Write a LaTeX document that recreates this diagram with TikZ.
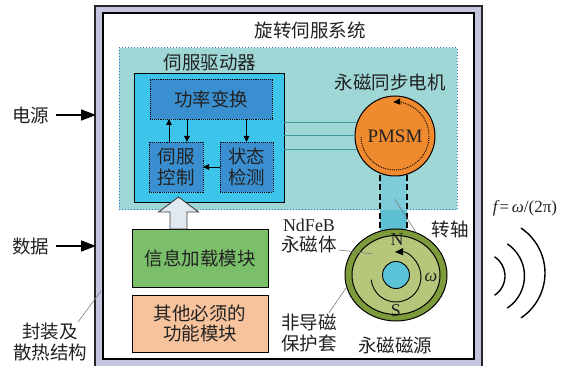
\documentclass[tikz,border=0pt]{standalone}
\usepackage{fontspec}
\setmainfont{Noto Sans CJK SC}
\newfontfamily\tms{Liberation Serif}
\usetikzlibrary{arrows.meta,shapes.geometric}

\definecolor{ink}{HTML}{222222}
\definecolor{lav}{HTML}{C4C4DE}
\definecolor{regionfill}{HTML}{9FD6D6}
\definecolor{regionline}{HTML}{3A6FC4}
\definecolor{drvfill}{HTML}{3DC4EA}
\definecolor{unitfill}{HTML}{3A8FD0}
\definecolor{greenfill}{HTML}{7BBF6A}
\definecolor{peachfill}{HTML}{F6C39C}
\definecolor{motorfill}{HTML}{F08A2E}
\definecolor{ringfill}{HTML}{7D9B3B}
\definecolor{magfill}{HTML}{B6C77C}
\definecolor{hubfill}{HTML}{5BC3D8}
\definecolor{shaftfill}{HTML}{5CC0D2}
\definecolor{shaftlite}{HTML}{7ECCD9}
\definecolor{wirecol}{HTML}{3F9C9E}
\definecolor{hollow}{HTML}{E0E8F0}
\definecolor{leader}{HTML}{7A7A7A}

\newcommand\lbfont{\fontsize{18.5}{20.5}\selectfont}

\begin{document}
\begin{tikzpicture}[x=1pt,y=-1pt,
  every node/.style={inner sep=0pt, outer sep=0pt, text=ink},
  lbl/.style={font=\lbfont, align=center},
  blockbox/.style={draw=black, line width=0.9pt, font=\lbfont, align=center},
  unitbox/.style={draw=black, densely dotted, line width=0.9pt, fill=unitfill, font=\lbfont, align=center},
  smallarr/.style={line width=0.9pt, -{Triangle[length=6pt,width=5.5pt]}},
  inarr/.style={line width=1.6pt, -{Triangle[length=15pt,width=11pt]}},
  leadline/.style={leader, line width=0.6pt},
  wire/.style={wirecol, line width=1pt},
  wave/.style={line width=1.4pt, line cap=round}
]
\useasboundingbox (0,0) rectangle (576,366);

% housing frame
\begin{scope}
\clip (0,0) rectangle (576,366);
\fill[lav, even odd rule] (95,6) rectangle (482,372) (103,13) rectangle (474,359);
\draw[black!85, line width=1.8pt] (95,6) rectangle (482,372);
\draw[black, line width=1.5pt] (103,13) rectangle (474,359);
\end{scope}
\node[lbl] (title) at (310,30) {旋转伺服系统};

% dotted region holding driver and motor
\node[fill=regionfill, draw=regionline, dotted, line width=1pt,
      minimum width=338, minimum height=162] (region) at (288,129) {};

% shaft between motor and magnet source
\node[fill=shaftfill, minimum width=27, minimum height=56] (shaft) at (393.5,203) {};
\fill[shaftlite] (shaft.north west) rectangle (shaft.east |- region.south);
\draw[black, dashed, dash pattern=on 6pt off 3.5pt, line width=1.2pt] (shaft.north west) -- (shaft.south west);
\draw[black, dashed, dash pattern=on 6pt off 3.5pt, line width=1.2pt] (shaft.north east) -- (shaft.south east);

% servo driver
\node[lbl] (drvlabel) at (210,63) {伺服驱动器};
\node[blockbox, fill=drvfill, minimum width=150, minimum height=129] (driver) at (209,137.5) {};
\node[unitbox, minimum width=122, minimum height=40] (power) at (211,99) {功率变换};
\node[unitbox, minimum width=54, minimum height=50] (ctrl) at (176,167) {伺服\\控制};
\node[unitbox, minimum width=53, minimum height=50] (detect) at (246.5,167) {状态\\检测};

\draw[smallarr] ([xshift=-7pt]ctrl.north) -- ([xshift=-7pt]ctrl.north |- power.south);
\draw[smallarr] ([xshift=11pt]ctrl.north |- power.south) -- ([xshift=11pt]ctrl.north);
\draw[smallarr] (detect.north |- power.south) -- (detect.north);
\draw[smallarr] (detect.west) -- (ctrl.east);

% motor
\node[lbl] (motorlabel) at (390,82) {永磁同步电机};
\node[circle, draw=black, line width=1pt, fill=motorfill, minimum size=80] (pmsm) at (395,136) {};
\node[font=\tms\fontsize{19}{21}\selectfont] at (pmsm.center) {PMSM};
\draw[black, densely dotted, line width=0.9pt, -{Triangle[length=7pt,width=6pt]}]
  (pmsm.center) ++(182:34pt) arc[start angle=182, end angle=453, radius=34pt];

% wires from driver to motor
\draw[wire] (driver.east |- pmsm.160) -- (pmsm.160);
\draw[wire] (driver.east |- pmsm.west) -- (pmsm.west);
\draw[wire] (driver.east |- pmsm.200) -- (pmsm.200);

% information loading and other modules
\node[blockbox, fill=greenfill, minimum width=136, minimum height=58] (info) at (200,258) {信息加载模块};
\node[blockbox, fill=peachfill, minimum width=136, minimum height=57] (other) at (200,323.5) {其他必须的\\功能模块};

% hollow data arrow into the driver
\coordinate (hbase) at (info.north -| 178.5,0);
\coordinate (htip) at (driver.south -| 178.5,0);
\draw[fill=hollow, draw=black!75, line width=0.9pt]
  ([xshift=-8.5pt]hbase) -- ([xshift=-8.5pt,yshift=17pt]hbase) -- ([xshift=-20pt,yshift=17pt]hbase)
  -- ([yshift=5pt]htip) -- ([xshift=20pt,yshift=17pt]hbase) -- ([xshift=8.5pt,yshift=17pt]hbase)
  -- ([xshift=8.5pt]hbase) -- cycle;

% permanent magnet source
\node[ellipse, draw=black, line width=1pt, fill=ringfill, minimum width=102, minimum height=92] (disk) at (396,275) {};
\node[ellipse, draw=black, line width=1pt, fill=magfill, minimum width=88, minimum height=79] (magnet) at (396,275) {};
\node[circle, draw=black, line width=0.9pt, fill=hubfill, minimum size=27] (hub) at (396,275) {};
\draw[black, line width=0.9pt, -{Triangle[length=8pt,width=7pt]}]
  ([yshift=-2pt]hub.center) ++(186:25pt) arc[start angle=186, end angle=452, radius=25pt];
\node[font=\tms\fontsize{18}{20}\selectfont] (north) at (397,240) {N};
\node[font=\tms\fontsize{18}{20}\selectfont] (south) at (396,311) {S};
\node[font=\tms\itshape\fontsize{18}{20}\selectfont] (omega) at (431,277) {ω};
\node[lbl] (srclabel) at (395,345) {永磁磁源};

% callouts
\node[lbl] (shaftlabel) at (450,229) {转轴};
\draw[leadline] (shaft.center) ++(1pt,4pt) coordinate (sl) -- ([xshift=-15pt,yshift=-4pt]shaftlabel.west);
\node[font=\tms\fontsize{18}{20}\selectfont] (ndfeb) at (309,225) {NdFeB};
\node[lbl] (pmlabel) at (309,244) {永磁体};
\coordinate (magpt) at (373,254);
\draw[leadline] ([xshift=2pt,yshift=-6pt]pmlabel.east) -- (magpt);
\node[lbl] (sleeve) at (309,333) {非导磁\\保护套};
\coordinate (ringpt) at (346,288);
\draw[leadline] ([xshift=-8pt,yshift=1pt]sleeve.north east) -- (ringpt);

% external inputs
\node[lbl] (powerin) at (31,115) {电源};
\coordinate (pin) at (96,115);
\draw[inarr] ([xshift=6pt]powerin.east) -- (pin);
\node[lbl] (datain) at (31,246) {数据};
\coordinate (din) at (96,246);
\draw[inarr] ([xshift=6pt]datain.east) -- (din);
\node[lbl] (housing) at (50,342) {封装及\\散热结构};
\coordinate (framept) at (101,291);
\draw[leadline] (78,322) coordinate (hs) -- (framept);

% output frequency
\node[font=\tms\fontsize{17}{20}\selectfont] (freq) at (525,208) {\textit{f}=\,\textit{ω}/(2π)};
\draw[wave] (482,276) ++(-56:23pt) arc[start angle=-56, end angle=56, radius=23pt];
\draw[wave] (486,276) ++(-56:38.5pt) arc[start angle=-56, end angle=56, radius=38.5pt];
\draw[wave] (491,273) ++(-56:54pt) arc[start angle=-56, end angle=56, radius=54pt];
\end{tikzpicture}
\end{document}
